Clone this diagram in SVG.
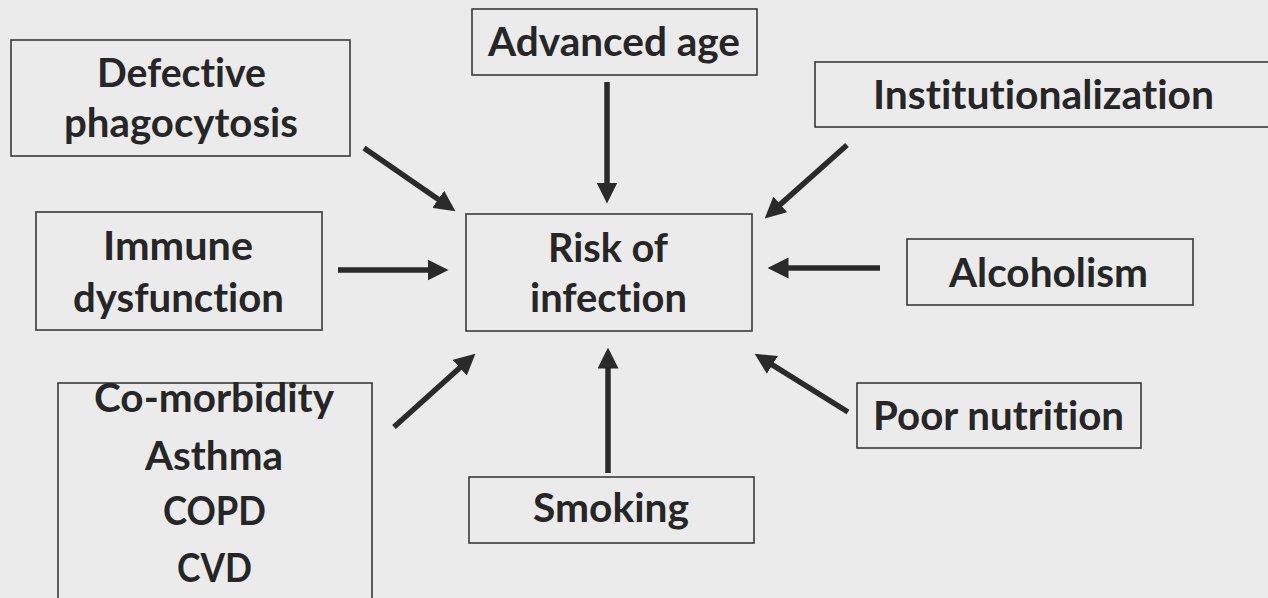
<svg xmlns="http://www.w3.org/2000/svg" width="1268" height="598" viewBox="0 0 1268 598">
<style>
.bg{fill:#ebebeb}
.box{fill:none;stroke:#3a3a3a;stroke-width:1.6}
.t{font-family:Lato,"Open Sans","Liberation Sans",sans-serif;font-weight:bold;font-size:40px;fill:#262626;font-variant-ligatures:none}
.a{stroke:#2a2a2a;stroke-width:5.5;fill:none;marker-end:url(#ah)}
</style>
<defs>
<marker id="ah" viewBox="0 0 20 20" refX="10" refY="10" markerWidth="21" markerHeight="21" markerUnits="userSpaceOnUse" orient="auto">
<path d="M0,0 L20,10 L0,20 z" fill="#2a2a2a"/>
</marker>
</defs>
<rect class="bg" x="0" y="0" width="1268" height="598"/>
<g id="defective">
<rect class="box" x="11" y="40" width="339" height="116"/>
<text class="t" x="97" y="87" textLength="169" lengthAdjust="spacingAndGlyphs">Defective</text>
<text class="t" x="64" y="137" textLength="234" lengthAdjust="spacingAndGlyphs">phagocytosis</text>
</g>
<g id="advanced-age">
<rect class="box" x="472" y="9" width="285" height="66"/>
<text class="t" x="488" y="56" textLength="252" lengthAdjust="spacingAndGlyphs">Advanced age</text>
</g>
<g id="institutionalization">
<rect class="box" x="815" y="62" width="470" height="65"/>
<text class="t" x="873" y="109" textLength="341" lengthAdjust="spacingAndGlyphs">Institutionalization</text>
</g>
<g id="immune">
<rect class="box" x="36" y="212" width="286" height="118"/>
<text class="t" x="103" y="260" textLength="150" lengthAdjust="spacingAndGlyphs">Immune</text>
<text class="t" x="73" y="312" textLength="211" lengthAdjust="spacingAndGlyphs">dysfunction</text>
</g>
<g id="risk">
<rect class="box" x="466" y="214" width="286" height="117"/>
<text class="t" x="548" y="262" textLength="120" lengthAdjust="spacingAndGlyphs">Risk of</text>
<text class="t" x="530" y="312" textLength="157" lengthAdjust="spacingAndGlyphs">infection</text>
</g>
<g id="alcoholism">
<rect class="box" x="907" y="239" width="286" height="66"/>
<text class="t" x="949" y="287" textLength="199" lengthAdjust="spacingAndGlyphs">Alcoholism</text>
</g>
<g id="comorbidity">
<rect class="box" x="58" y="383" width="314" height="240"/>
<text class="t" x="94" y="412" textLength="240" lengthAdjust="spacingAndGlyphs">Co-morbidity</text>
<text class="t" x="145" y="470" textLength="138" lengthAdjust="spacingAndGlyphs">Asthma</text>
<text class="t" x="163" y="525" textLength="103" lengthAdjust="spacingAndGlyphs">COPD</text>
<text class="t" x="177" y="582" textLength="75" lengthAdjust="spacingAndGlyphs">CVD</text>
</g>
<g id="smoking">
<rect class="box" x="469" y="477" width="285" height="66"/>
<text class="t" x="533" y="522" textLength="156" lengthAdjust="spacingAndGlyphs">Smoking</text>
</g>
<g id="poor-nutrition">
<rect class="box" x="857" y="383" width="284" height="65"/>
<text class="t" x="873" y="430" textLength="251" lengthAdjust="spacingAndGlyphs">Poor nutrition</text>
</g>
<g id="connectors">
<line class="a" x1="364" y1="148" x2="446.8" y2="205.3"/>
<line class="a" x1="607" y1="82" x2="607" y2="193"/>
<line class="a" x1="847" y1="145" x2="772.5" y2="211.4"/>
<line class="a" x1="338" y1="270" x2="438" y2="270"/>
<line class="a" x1="880" y1="268" x2="778" y2="268"/>
<line class="a" x1="394" y1="427" x2="467.6" y2="360.7"/>
<line class="a" x1="608" y1="473" x2="608" y2="358"/>
<line class="a" x1="848" y1="412" x2="763.5" y2="359.3"/>
</g>
</svg>
